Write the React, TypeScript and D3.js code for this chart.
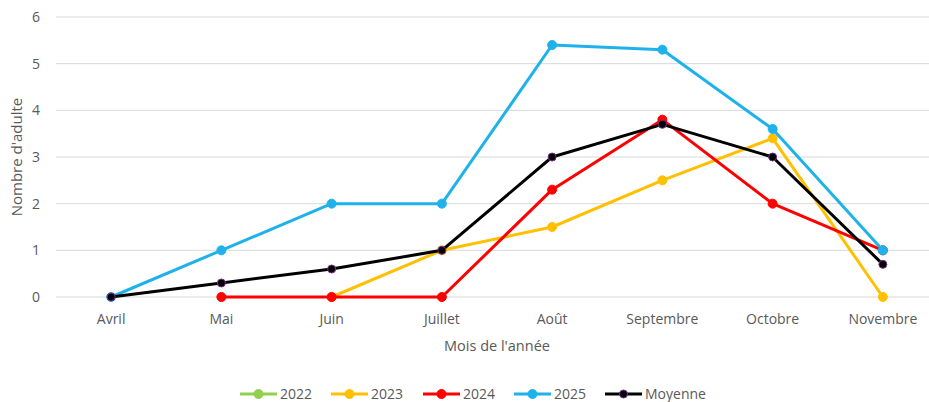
import React from "react";
import * as d3 from "d3";

const months = ["Avril", "Mai", "Juin", "Juillet", "Août", "Septembre", "Octobre", "Novembre"];
const yTicks = [0, 1, 2, 3, 4, 5, 6];

type Pt = { m: string; v: number };
const s2022: Pt[] = [];
const s2023: Pt[] = [
  { m: "Juin", v: 0 }, { m: "Juillet", v: 1 }, { m: "Août", v: 1.5 },
  { m: "Septembre", v: 2.5 }, { m: "Octobre", v: 3.4 }, { m: "Novembre", v: 0 },
];
const s2024: Pt[] = [
  { m: "Mai", v: 0 }, { m: "Juin", v: 0 }, { m: "Juillet", v: 0 }, { m: "Août", v: 2.3 },
  { m: "Septembre", v: 3.8 }, { m: "Octobre", v: 2 }, { m: "Novembre", v: 1 },
];
const s2025: Pt[] = [
  { m: "Avril", v: 0 }, { m: "Mai", v: 1 }, { m: "Juin", v: 2 }, { m: "Juillet", v: 2 },
  { m: "Août", v: 5.4 }, { m: "Septembre", v: 5.3 }, { m: "Octobre", v: 3.6 }, { m: "Novembre", v: 1 },
];
const sMoy: Pt[] = [
  { m: "Avril", v: 0 }, { m: "Mai", v: 0.3 }, { m: "Juin", v: 0.6 }, { m: "Juillet", v: 1 },
  { m: "Août", v: 3 }, { m: "Septembre", v: 3.7 }, { m: "Octobre", v: 3 }, { m: "Novembre", v: 0.7 },
];

const seriesNames = ["2022", "2023", "2024", "2025", "Moyenne"];
const seriesData = [s2022, s2023, s2024, s2025, sMoy];
const seriesColors = ["#92D050", "#FFC000", "#FF0000", "#1FB2EA", "#000000"];
const markerStroke = ["#92D050", "#FFC000", "#FF0000", "#1FB2EA", "#7B2C8F"];

const W = 929;
const H = 402;
const FONT = "'Open Sans', 'Noto Sans', sans-serif";

export default function App() {
  const x = d3.scaleBand<string>().domain(months).range([56, 938]);
  const y = d3.scaleLinear().domain([0, 6]).range([297, 17]);
  const cx = (m: string) => (x(m) as number) + x.bandwidth() / 2;
  const line = d3.line<Pt>().x((d) => cx(d.m)).y((d) => y(d.v));

  const legendX = [240, 331, 423, 514, 605];

  return (
    <div style={{ position: "absolute", left: 0, top: 0 }}>
      <svg width={W} height={H} style={{ display: "block", background: "#fff" }}>
        {yTicks.map((t) => (
          <g key={t}>
            <line x1={56} x2={W} y1={y(t)} y2={y(t)} stroke="#D9D9D9" strokeWidth={1} />
            <text x={40} y={y(t)} dy="0.35em" textAnchor="end" fontSize={14} fill="#595959" fontFamily={FONT}>
              {t}
            </text>
          </g>
        ))}
        {months.map((m) => (
          <text key={m} x={cx(m)} y={324} textAnchor="middle" fontSize={14} fill="#595959" fontFamily={FONT}>
            {m}
          </text>
        ))}
        <text x={497} y={351} textAnchor="middle" fontSize={14.5} fill="#595959" fontFamily={FONT}>
          Mois de l'année
        </text>
        <text
          transform={`translate(22,157) rotate(-90)`}
          textAnchor="middle"
          fontSize={15}
          fill="#595959"
          fontFamily={FONT}
        >
          Nombre d'adulte
        </text>

        {seriesData.map((data, i) => (
          <g key={seriesNames[i]}>
            {data.length > 0 && (
              <path d={line(data) || ""} fill="none" stroke={seriesColors[i]} strokeWidth={3} strokeLinejoin="round" />
            )}
            {data.map((d) => (
              <circle
                key={d.m}
                cx={cx(d.m)}
                cy={y(d.v)}
                r={i === 4 ? 4 : 4.5}
                fill={seriesColors[i]}
                stroke={markerStroke[i]}
                strokeWidth={1}
              />
            ))}
          </g>
        ))}

        {seriesNames.map((n, i) => (
          <g key={n}>
            <line x1={legendX[i]} x2={legendX[i] + 37} y1={394} y2={394} stroke={seriesColors[i]} strokeWidth={3} />
            <circle
              cx={legendX[i] + 18.5}
              cy={394}
              r={i === 4 ? 4 : 4.5}
              fill={seriesColors[i]}
              stroke={markerStroke[i]}
              strokeWidth={1}
            />
            <text x={legendX[i] + 40} y={394} dy="0.35em" fontSize={14} fill="#595959" fontFamily={FONT}>
              {n}
            </text>
          </g>
        ))}
      </svg>
    </div>
  );
}
